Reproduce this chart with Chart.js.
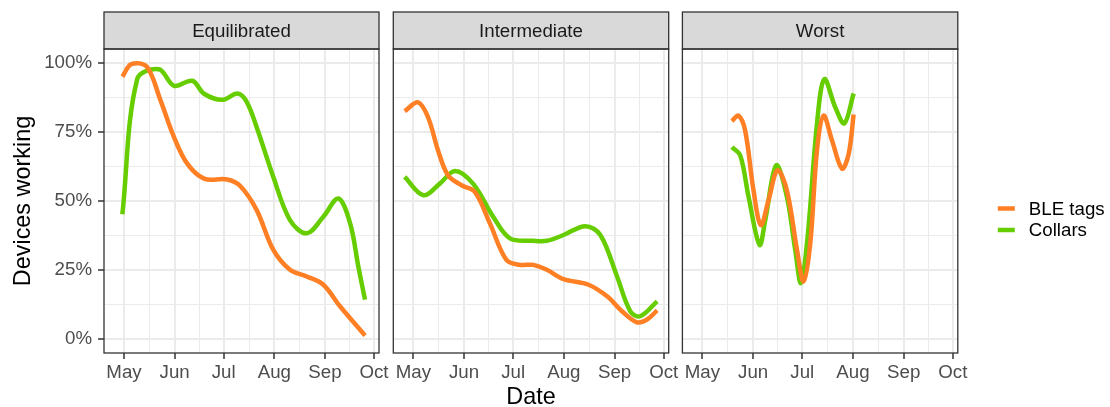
<!DOCTYPE html>
<html>
<head>
<meta charset="utf-8">
<script src="https://cdn.jsdelivr.net/npm/chart.js@4.4.1/dist/chart.umd.min.js"></script>
<style>
  html, body { margin: 0; padding: 0; background: #fff; overflow: hidden; }
  #wrap { position: relative; width: 1110px; height: 407px; }
  #wrap canvas { position: absolute; left: 0; top: 0; }
</style>
</head>
<body>
<div id="wrap">
  <canvas id="c1" width="1110" height="407"></canvas>
  <canvas id="c2" width="1110" height="407"></canvas>
  <canvas id="c3" width="1110" height="407"></canvas>
</div>
<script>
// x = days since 1 May, y = % of devices working
const monthTicks = [0, 31, 61, 92, 123, 153];
const monthLabels = ["May", "Jun", "Jul", "Aug", "Sep", "Oct"];
const pctTicks = [0, 25, 50, 75, 100];
const pctLabels = ["0%", "25%", "50%", "75%", "100%"];
const facets = ["Equilibrated", "Intermediate", "Worst"];
const seriesNames = ["BLE tags", "Collars"];

const eqBleDays = [-1, 4.5, 13.9, 22.4, 30.6, 38.7, 49, 63.2, 71, 81.2, 91.4, 101.6, 111.8, 122, 132.2, 147.5];
const eqBleVals = [95.0, 99.5, 98.6, 86.3, 73.1, 63.5, 58.1, 57.8, 55.5, 46.7, 32.3, 25.1, 22.7, 19.7, 11.9, 1.3];
const eqColDays = [-1, 8.1, 21.4, 30.6, 41.8, 49, 60.2, 69.4, 75, 81.2, 91.4, 101.6, 111.8, 122, 131.2, 138.4, 143.4, 147.5];
const eqColVals = [45.2, 94.1, 97.7, 91.7, 93.5, 88.8, 86.6, 88.9, 86, 76.7, 58.7, 43.1, 38.3, 44.3, 50.9, 41.9, 26.3, 14.3];

const inBleDays = [-5.3, 2.9, 9, 15.1, 21.2, 29.4, 37.6, 46.8, 56.9, 65.1, 73.3, 81.6, 91.8, 107.1, 118.4, 127.5, 136.7, 142.8, 149];
const inBleVals = [82.5, 85.7, 80.3, 68.3, 59.3, 55.7, 53.3, 41.9, 28.7, 26.9, 26.9, 25.1, 21.7, 19.7, 15.5, 10.1, 6.1, 7.1, 10.4];
const inColDays = [-5.3, 6.1, 16.2, 25.5, 36.5, 48.8, 59, 73.3, 81.6, 91.8, 105.1, 114.3, 124.5, 132.6, 138.7, 149];
const inColVals = [58.7, 52.1, 56.3, 60.9, 56.3, 44.3, 36.5, 35.6, 35.6, 37.7, 40.9, 37.7, 22.7, 10.1, 8.3, 13.7];

const woBleDays = [18, 22, 26.1, 31.2, 35.7, 40.4, 45.9, 51.6, 57.8, 61.8, 65.9, 70, 74, 79.2, 85.3, 89.4, 92.4];
const woBleVals = [78.9, 80.9, 75.5, 53.9, 41.3, 50.3, 61.1, 53.9, 32.3, 20.9, 34.7, 68.3, 80.9, 71.9, 61.7, 67.1, 81.3];
const woColDays = [18, 23.1, 28.2, 34.9, 38.4, 45.1, 51.6, 56.7, 60.2, 64.3, 70, 74.5, 81.2, 86.7, 92.4];
const woColVals = [69.5, 66.5, 51.5, 34.1, 43.1, 62.9, 51.5, 32.3, 20.3, 37.1, 77.9, 94.1, 83.9, 78.1, 88.9];

const FONT = '"Liberation Sans", Arial, Helvetica, sans-serif';
const ORANGE = "#FF7F24";
const GREEN = "#66CD00";

const pts = (xs, ys) => xs.map((x, i) => ({ x: x, y: ys[i] }));

// major breaks plus ggplot-style minor breaks half way between them
function withMinor(major) {
  const out = major.map(v => ({ value: v }));
  for (let i = 0; i < major.length - 1; i++) {
    out.push({ value: (major[i] + major[i + 1]) / 2, minor: true });
  }
  return out.sort((a, b) => a.value - b.value);
}

const gridStyle = (showTicks) => ({
  color: "#EBEBEB",
  lineWidth: c => (c.tick && c.tick.minor ? 1 : 2),
  drawTicks: showTicks,
  tickLength: 6,
  tickWidth: 1.5,
  tickColor: c => (c.tick && c.tick.minor ? "rgba(0,0,0,0)" : "#333333"),
});

const panelDecor = {
  id: "panelDecor",
  afterDraw(chart, args, opts) {
    const { ctx, chartArea: a } = chart;
    const w = a.right - a.left, sh = 37;
    ctx.save();
    ctx.fillStyle = "#D9D9D9";
    ctx.fillRect(a.left, a.top - sh, w, sh);
    ctx.strokeStyle = "#333333";
    ctx.lineWidth = 1.3;
    ctx.strokeRect(a.left, a.top - sh, w, sh);
    ctx.strokeRect(a.left, a.top, w, a.bottom - a.top);
    ctx.fillStyle = "#1A1A1A";
    ctx.font = "18.7px " + FONT;
    ctx.textAlign = "center";
    ctx.textBaseline = "middle";
    ctx.fillText(opts.title, (a.left + a.right) / 2, a.top - sh / 2 + 1);

    if (opts.legend) {
      const rows = [208.5, 230];
      chart.data.datasets.forEach((ds, i) => {
        ctx.strokeStyle = ds.borderColor;
        ctx.lineWidth = 4.5;
        ctx.beginPath();
        ctx.moveTo(a.right + 40, rows[i]);
        ctx.lineTo(a.right + 57, rows[i]);
        ctx.stroke();
        ctx.fillStyle = "#000";
        ctx.textAlign = "left";
        ctx.fillText(ds.label, a.right + 71, rows[i] + 1);
      });
    }
    ctx.restore();
  }
};

function makePanel(id, idx, ble, col) {
  const first = idx === 0;
  const left = [0, 393.3, 682.4][idx];
  const right = [1110 - 379, 1110 - 668.7, 1110 - 957.8][idx];
  return new Chart(document.getElementById(id), {
    type: "line",
    data: {
      datasets: [
        { label: seriesNames[0], data: ble, borderColor: ORANGE, backgroundColor: ORANGE, borderWidth: 4.5 },
        { label: seriesNames[1], data: col, borderColor: GREEN, backgroundColor: GREEN, borderWidth: 4.5 },
      ],
    },
    options: {
      responsive: false,
      animation: false,
      events: [],
      layout: { padding: { left: left, right: right, top: 49, bottom: 0 } },
      elements: {
        point: { radius: 0 },
        line: { tension: 0.35, borderCapStyle: "butt", borderJoinStyle: "round" },
      },
      plugins: {
        legend: { display: false },
        tooltip: { enabled: false },
        panelDecor: { title: facets[idx], legend: idx === 2 },
      },
      scales: {
        x: {
          type: "linear",
          min: -12.24,
          max: 156.06,
          border: { display: false },
          grid: gridStyle(true),
          afterBuildTicks: s => { s.ticks = withMinor(monthTicks); },
          afterFit: s => { s.height = 54; },
          ticks: {
            autoSkip: false,
            maxRotation: 0,
            padding: 3,
            color: "#4D4D4D",
            font: { family: FONT, size: 18.7 },
            callback: v => {
              const k = monthTicks.indexOf(v);
              return k >= 0 ? monthLabels[k] : "";
            },
          },
          title: {
            display: idx === 1,
            text: "Date",
            color: "#000",
            font: { family: FONT, size: 23.4, lineHeight: 0.8 },
            padding: { top: 0, bottom: 0 },
          },
        },
        y: {
          type: "linear",
          min: -5,
          max: 105,
          border: { display: false },
          grid: gridStyle(first),
          afterBuildTicks: s => { s.ticks = withMinor(pctTicks); },
          afterFit: s => { s.width = first ? 104 : 0; },
          ticks: {
            display: first,
            autoSkip: false,
            padding: 6,
            color: "#4D4D4D",
            font: { family: FONT, size: 18.7 },
            callback: v => {
              const k = pctTicks.indexOf(v);
              return k >= 0 ? pctLabels[k] : "";
            },
          },
          title: {
            display: first,
            text: "Devices working",
            color: "#000",
            font: { family: FONT, size: 23.4 },
            padding: { top: 10, bottom: 0 },
          },
        },
      },
    },
    plugins: [panelDecor],
  });
}

makePanel("c1", 0, pts(eqBleDays, eqBleVals), pts(eqColDays, eqColVals));
makePanel("c2", 1, pts(inBleDays, inBleVals), pts(inColDays, inColVals));
makePanel("c3", 2, pts(woBleDays, woBleVals), pts(woColDays, woColVals));
</script>
</body>
</html>
